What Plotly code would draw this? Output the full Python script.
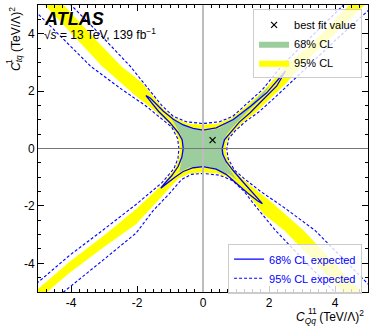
import plotly.graph_objects as go

# contour outlines, (C_Qq^11, C_tq^1) in (TeV/Lambda)^2
# observed 95% CL region (yellow), traced clockwise from the top of the centre
cl95_x = [0, 0.45, 0.85, 1.25, 1.8, 2.5, 3.55, 4.4, 4.85,
          5.4,
          4.88, 4.0, 3.0, 2.5, 2.0, 1.55, 1.2, 0.9, 0.74, 0.69,
          0.71, 0.82, 1.1, 1.45, 2.05, 3.05, 4.8, 5.2,
          4.62,
          4.22, 3.38, 2.47, 1.85, 1.5, 1.2, 0.85, 0.45, 0,
          -0.4, -0.75, -1.05, -1.5, -2.03, -3.04, -4.04, -5.06, -5.3,
          -5.6,
          -5.06, -4.04, -3.04, -2.03, -1.65, -1.2, -0.83, -0.72, -0.70,
          -0.71, -0.82, -1.1, -1.45, -2.05, -3.05, -4.8, -5.2,
          -4.62,
          -4.22, -3.38, -2.47, -1.85, -1.5, -1.2, -0.85, -0.45, 0]
cl95_y = [0.83, 0.87, 1.05, 1.42, 1.98, 2.85, 3.95, 5.0, 5.5,
          5.5,
          4.98, 4.0, 2.9, 2.25, 1.7, 1.2, 0.9, 0.55, 0.3, 0,
          -0.2, -0.55, -0.95, -1.3, -1.85, -2.86, -5.0, -5.5,
          -5.5,
          -5.0, -3.95, -2.86, -2.3, -1.8, -1.38, -1.05, -0.87, -0.84,
          -0.87, -1.05, -1.42, -2.0, -2.64, -3.47, -4.33, -5.33, -5.6,
          -5.4,
          -4.95, -3.95, -3.07, -2.12, -1.7, -1.22, -0.65, -0.3, 0,
          0.2, 0.55, 0.95, 1.3, 1.85, 2.86, 5.0, 5.5,
          5.5,
          5.0, 3.95, 2.86, 2.3, 1.8, 1.38, 1.05, 0.87, 0.83]

# observed 68% CL region (green)
cl68_x = [0, 0.3, 0.52, 0.8, 1.12, 1.4, 1.63, 1.85, 2.03, 1.9, 1.73, 1.4, 1.12,
          0.9, 0.72, 0.63, 0.61, 0.63, 0.72, 0.85, 1.02, 0.8, 0.52, 0.25, 0,
          -0.25, -0.45, -0.72, -0.67, -0.63, -0.62, -0.63, -0.68, -0.82, -1.0,
          -0.8, -0.6, -0.35, 0]
cl68_y = [0.62, 0.65, 0.72, 0.95, 1.22, 1.48, 1.75, 1.98, 2.2, 1.98, 1.72, 1.35, 1.03,
          0.75, 0.5, 0.2, 0, -0.3, -0.55, -0.8, -1.1, -0.9, -0.78, -0.66, -0.62,
          -0.63, -0.67, -0.83, -0.55, -0.3, 0, 0.3, 0.5, 0.78, 1.13,
          0.95, 0.86, 0.7, 0.62]

# expected 68% CL contour (solid blue)
exp68_x = [0, 0.4, 0.92, 1.45, 1.93, 2.33, 2.5, 2.4, 2.23, 1.8, 1.42, 1.1, 0.82,
           0.65, 0.58, 0.6, 0.7, 0.9, 1.2, 1.5, 1.72, 1.8, 1.65, 1.35, 1.0, 0.7,
           0.4, 0.15, 0, -0.3, -0.6, -0.85, -1.1, -1.28, -1.15, -0.95, -0.75,
           -0.64, -0.6, -0.63, -0.75, -1.0, -1.35, -1.73, -1.6, -1.2, -0.9, -0.6,
           -0.3, 0]
exp68_y = [0.64, 0.72, 1.01, 1.48, 1.94, 2.48, 2.7, 2.5, 2.17, 1.68, 1.24, 0.92, 0.55,
           0.3, 0, -0.2, -0.45, -0.75, -1.15, -1.55, -1.82, -1.92, -1.82, -1.55, -1.2, -0.9,
           -0.72, -0.65, -0.63, -0.67, -0.8, -1.0, -1.22, -1.38, -1.2, -0.95, -0.62,
           -0.3, 0, 0.3, 0.55, 0.9, 1.3, 1.84, 1.76, 1.3, 1.02, 0.82,
           0.7, 0.64]

# expected 95% CL contour (dashed blue), four open branches
exp95_top_x = [-4.45, -4.0, -3.1, -2.2, -1.95, -1.55, -1.25, -0.9, -0.5, 0,
               0.5, 0.9, 1.3, 1.8, 2.4, 3.4, 4.25, 4.7]
exp95_top_y = [5.55, 5.0, 3.95, 2.86, 2.5, 1.95, 1.5, 1.12, 0.93, 0.87,
               0.93, 1.12, 1.52, 2.05, 2.9, 4.05, 5.0, 5.5]
exp95_right_x = [5.5, 5.0, 4.04, 3.04, 2.2, 1.7, 1.3, 0.98, 0.78, 0.72,
                 0.76, 0.95, 1.25, 1.75, 2.45, 3.4, 5.05, 5.5]
exp95_right_y = [5.3, 4.8, 3.8, 2.7, 1.8, 1.28, 0.95, 0.62, 0.35, 0,
                 -0.35, -0.75, -1.05, -1.5, -2.05, -2.86, -4.75, -5.3]
exp95_bottom_x = [-4.8, -4.3, -3.04, -2.03, -1.5, -1.0, -0.65, -0.35, 0,
                  0.5, 0.9, 1.25, 1.55, 1.95, 2.2, 3.1, 4.0, 4.45]
exp95_bottom_y = [-5.6, -5.07, -3.9, -2.95, -2.15, -1.55, -1.08, -0.9, -0.87,
                  -0.93, -1.12, -1.5, -1.95, -2.5, -2.86, -3.95, -5.0, -5.55]
exp95_left_x = [-5.5, -5.05, -3.4, -2.45, -1.75, -1.25, -0.95, -0.77, -0.73,
                -0.76, -0.88, -1.25, -2.03, -3.04, -4.04, -5.06, -5.5]
exp95_left_y = [5.3, 4.75, 2.86, 2.05, 1.5, 1.05, 0.75, 0.35, 0,
                -0.35, -0.7, -1.2, -1.95, -2.85, -3.72, -4.72, -5.15]

best_fit_x = [0.29]
best_fit_y = [0.29]

ticks = [-4, -2, 0, 2, 4]
tick_text = ['-4', '-2', '0', '2', '4']

FONT = 'Liberation Sans, Arial, sans-serif'
BLUE = '#0000ff'


def join(*branches):
    xs, ys = [], []
    for bx, by in branches:
        if xs:
            xs.append(None)
            ys.append(None)
        xs += bx
        ys += by
    return xs, ys


d95x, d95y = join((exp95_top_x, exp95_top_y), (exp95_right_x, exp95_right_y),
                  (exp95_bottom_x, exp95_bottom_y), (exp95_left_x, exp95_left_y))

trace_95 = go.Scatter(x=cl95_x, y=cl95_y, fill='toself', fillcolor='#ffff00',
                      mode='lines', line=dict(width=0), name='95% CL',
                      legend='legend', legendrank=3, hoverinfo='skip')
trace_68 = go.Scatter(x=cl68_x, y=cl68_y, fill='toself', fillcolor='#9ccd9c',
                      mode='lines', line=dict(width=0), name='68% CL',
                      legend='legend', legendrank=2, hoverinfo='skip')
trace_exp68 = go.Scatter(x=exp68_x, y=exp68_y, mode='lines',
                         line=dict(color=BLUE, width=1.3),
                         name='68% CL expected', legend='legend2', legendrank=1)
trace_exp95 = go.Scatter(x=d95x, y=d95y, mode='lines',
                         line=dict(color=BLUE, width=1.1, dash='3px,2px'),
                         name='95% CL expected', legend='legend2', legendrank=2)
trace_best = go.Scatter(x=best_fit_x, y=best_fit_y, mode='markers',
                        marker=dict(symbol='x-thin', size=6, color='black',
                                    line=dict(width=1.2, color='black')),
                        name='best fit value', legend='legend', legendrank=1)

data = [trace_95, trace_68, trace_exp68, trace_exp95, trace_best]

axis_common = dict(range=[-5, 5], tickvals=ticks, ticktext=tick_text,
                   ticks='inside', ticklen=6, tickcolor='black', mirror='allticks',
                   showline=True, linecolor='black', linewidth=1,
                   showgrid=False, zeroline=False,
                   tickfont=dict(size=12, color='black', family=FONT))

legend_common = dict(xanchor='right', bgcolor='rgba(255,255,255,0.8)',
                     bordercolor='#cccccc', borderwidth=1, tracegroupgap=0,
                     itemwidth=30)

layout = go.Layout(
    width=374, height=332,
    margin=dict(l=38, r=6, t=5, b=40),
    plot_bgcolor='white', paper_bgcolor='white',
    font=dict(family=FONT, size=12, color='black'),
    xaxis=dict(axis_common, minor=dict(ticks='inside', dtick=0.25, tick0=0,
                                       ticklen=3, tickcolor='black')),
    yaxis=dict(axis_common, minor=dict(ticks='inside', dtick=0.5, tick0=0,
                                       ticklen=3, tickcolor='black')),
    legend=dict(legend_common, x=0.982, y=0.985, yanchor='top',
                font=dict(size=11, family=FONT)),
    legend2=dict(legend_common, x=0.982, y=-0.006, yanchor='bottom',
                 font=dict(size=11, family=FONT, color=BLUE)),
    shapes=[
        dict(type='line', xref='x', yref='paper', x0=0, x1=0, y0=0, y1=1,
             line=dict(color='#bdbdbd', width=2), layer='above'),
        dict(type='line', xref='paper', yref='y', x0=0, x1=1, y0=0, y1=0,
             line=dict(color='#777777', width=1), layer='above'),
    ],
    annotations=[
        dict(text='<b><i>ATLAS</i></b>', xref='paper', yref='paper',
             x=0.012, y=0.952, xanchor='left', yanchor='middle', showarrow=False,
             font=dict(size=18, family=FONT)),
        dict(text='\u221a<i>s</i> = 13 TeV, 139 fb<sup>\u22121</sup>',
             xref='paper', yref='paper', x=0.012, y=0.9, xanchor='left',
             yanchor='middle', showarrow=False, font=dict(size=12, family=FONT)),
        # y title, superscript stacked over the subscript by a second label
        dict(text='<i>C</i><sub><i>tq</i></sub> (TeV/\u039b)<sup>2</sup>',
             xref='paper', yref='paper', x=-0.067, y=1.0, xanchor='center',
             yanchor='top', textangle=-90, showarrow=False,
             font=dict(size=12, family=FONT)),
        dict(text='1', xref='paper', yref='paper', x=-0.088, y=0.805,
             xanchor='center', yanchor='middle', textangle=-90, showarrow=False,
             font=dict(size=8.5, family=FONT)),
        # x title, same trick
        dict(text='<i>C</i><sub><i>Qq</i></sub> (TeV/\u039b)<sup>2</sup>',
             xref='paper', yref='paper', x=0.995, y=-0.088, xanchor='right',
             yanchor='middle', showarrow=False, font=dict(size=12, family=FONT)),
        dict(text='11', xref='paper', yref='paper', x=0.812, y=-0.066,
             xanchor='left', yanchor='middle', showarrow=False,
             font=dict(size=8.5, family=FONT)),
    ],
)

fig = go.Figure(data=data, layout=layout)
fig.write_html('out.html', config={'displayModeBar': False},
               post_script="document.body.style.margin='0';")
